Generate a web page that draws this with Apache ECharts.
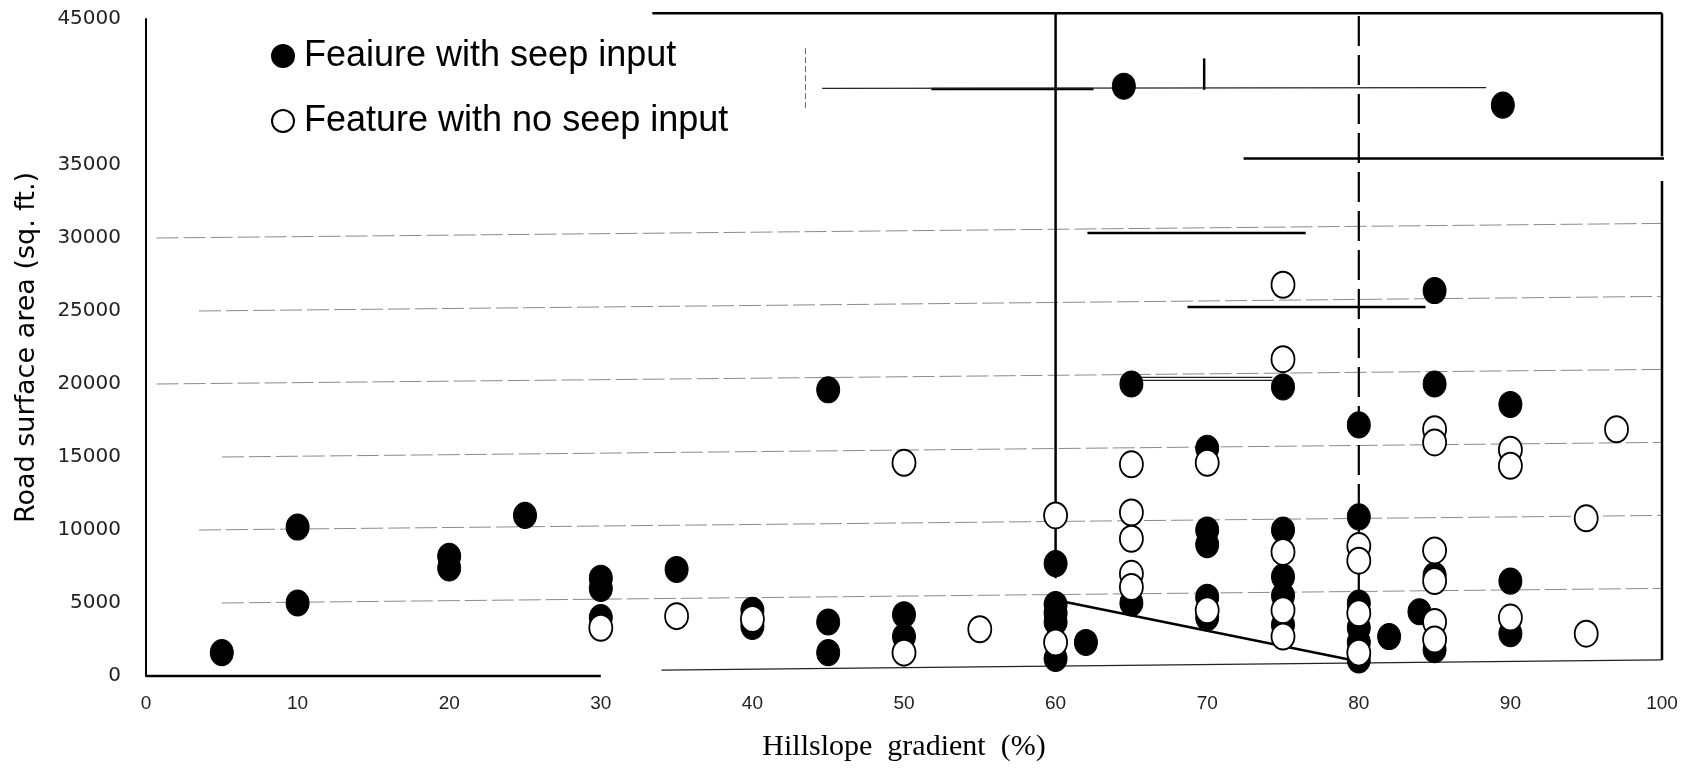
<!DOCTYPE html>
<html><head><meta charset="utf-8">
<script src="https://cdn.jsdelivr.net/npm/echarts@6/dist/echarts.min.js"></script>
<style>html,body{margin:0;padding:0;background:#fff}#c{width:1695px;height:770px}</style>
</head><body><div id="c"></div>
<script>
// Feature with seep input (filled)
const seepX = [5,10,10,20,20,25,30,30,30,35,40,40,45,45,45,50,50,60,60,60,60,60,62,65,65,64.5,70,70,70,70,70,75,75,75,75,75,80,80,80,80,80,80,80,82,84,85,85,85,85,90,90,90,89.5];
const seepY = [1600,10200,5000,8200,7400,11000,6700,6000,4000,7300,4500,3400,3700,1600,19600,4200,2700,7700,4900,4300,3700,1200,2300,20000,5000,40400,15600,10000,9000,5400,4000,19800,10000,6800,5500,3500,17200,10900,5000,4400,3300,2300,1100,2700,4400,26400,20000,6900,1800,18600,6500,2900,39100];
// Feature with no seep input (open)
const noSeepX = [30,35,40,50,50,55,60,60,65,65,65,65,65,70,70,75,75,75,75,75,80,80,80,80,85,85,85,85,85,85,90,90,90,95,95,97];
const noSeepY = [3300,4100,3900,14600,1600,3200,11000,2300,14500,11200,9400,7000,6100,14600,4500,26800,21700,8500,4500,2700,8900,7900,4300,1600,16900,16000,8600,6500,3700,2500,15500,14400,4000,10800,2900,16900];

const xTicks = [0,10,20,30,40,50,60,70,80,90,100];
const yTicks = [0,5000,10000,15000,20000,25000,30000,35000,45000];

// faint (scanned) grid lines: level at left, start x, rise to right edge
const gridLevels = [5000,10000,15000,20000,25000,30000];
const gridStartX = [5,3.5,5,0.7,3.5,0.7];
const gridRise = 1000;

// drawn line pieces [x1,y1,x2,y2]
const heavyLines = [
  [33.4,45400,100,45400],
  [100,45400,100,35600],
  [100,33900,100,1100],
  [0,0,30,0],
  [60,45400,60,6700],
  [60,5200,80,1000],
  [72.4,35450,100.2,35450],
  [62.1,30350,76.5,30350],
  [68.7,25280,84.4,25280],
  [51.8,40200,62.5,40200],
  [69.8,42300,69.8,40150]
];
const lightLines = [
  [34,400,100,1100],
  [64.9,20450,74.3,20450],
  [64.9,20250,74.3,20250],
  [44.6,40250,88.4,40300]
];
const dashedLines = [
  [80,45200,80,1000]
];
const faintDashed = [
  [43.5,43000,43.5,38700]
];

const series = [];
function seg(l, style, z) {
  series.push({type:'line', data:[[l[0],l[1]],[l[2],l[3]]], symbol:'none', silent:true,
    clip:false, lineStyle:style, z:z, animation:false});
}
gridLevels.forEach((v,i)=>seg([gridStartX[i],v,100,v+gridRise],{color:'#8a8a8a',width:1,type:[22,5]},1));
heavyLines.forEach(l=>seg(l,{color:'#000',width:2.5},2));
lightLines.forEach(l=>seg(l,{color:'#222',width:1.3},2));
dashedLines.forEach(l=>seg(l,{color:'#000',width:2.2,type:[30,9]},2));
faintDashed.forEach(l=>seg(l,{color:'#666',width:1,type:[6,3]},2));

series.push({name:'Feaiure with seep input', type:'scatter', z:5,
  data: seepX.map((x,i)=>[x,seepY[i]]), symbol:'circle', symbolSize:[23,26],
  itemStyle:{color:'#000', borderColor:'#000', borderWidth:1, opacity:1}});
series.push({name:'Feature with no seep input', type:'scatter', z:6,
  data: noSeepX.map((x,i)=>[x,noSeepY[i]]), symbol:'circle', symbolSize:[23,26],
  itemStyle:{color:'#fff', borderColor:'#000', borderWidth:1.9, opacity:1}});

const chart = echarts.init(document.getElementById('c'), null, {renderer:'canvas'});
chart.setOption({
  animation:false,
  backgroundColor:'#fff',
  grid:{left:146,right:33,top:19,bottom:94, outerBoundsMode:'none', containLabel:false},
  legend:{
    data:['Feaiure with seep input','Feature with no seep input'],
    orient:'vertical', left:266, top:33, itemWidth:22, itemHeight:22, itemGap:29,
    icon:'circle',
    textStyle:{fontFamily:'Liberation Sans, Arial, sans-serif', fontSize:36, color:'#000', padding:[0,0,0,5]}
  },
  xAxis:{type:'value', min:0, max:100, interval:10,
    name:'Hillslope  gradient  (%)', nameLocation:'middle', nameGap:56,
    nameTextStyle:{fontFamily:'Liberation Serif, Times New Roman, serif', fontSize:30, color:'#000'},
    axisLine:{show:false}, axisTick:{show:false}, splitLine:{show:false},
    axisLabel:{fontFamily:'Liberation Sans, Arial, sans-serif', fontSize:19, color:'#222', margin:18,
      formatter:v=>xTicks.includes(v)?String(v):''}},
  yAxis:{type:'value', min:0, max:45000, interval:5000,
    name:'Road surface area (sq. ft.)', nameLocation:'middle', nameGap:106, nameRotate:90,
    nameTextStyle:{fontFamily:'DejaVu Sans, sans-serif', fontSize:27, color:'#000'},
    axisLine:{show:true, lineStyle:{color:'#000', width:2}}, axisTick:{show:false}, splitLine:{show:false},
    axisLabel:{fontFamily:'DejaVu Sans, sans-serif', fontSize:20, color:'#222', margin:25,
      formatter:v=>yTicks.includes(v)?String(v):''}},
  series:series
});
</script></body></html>
